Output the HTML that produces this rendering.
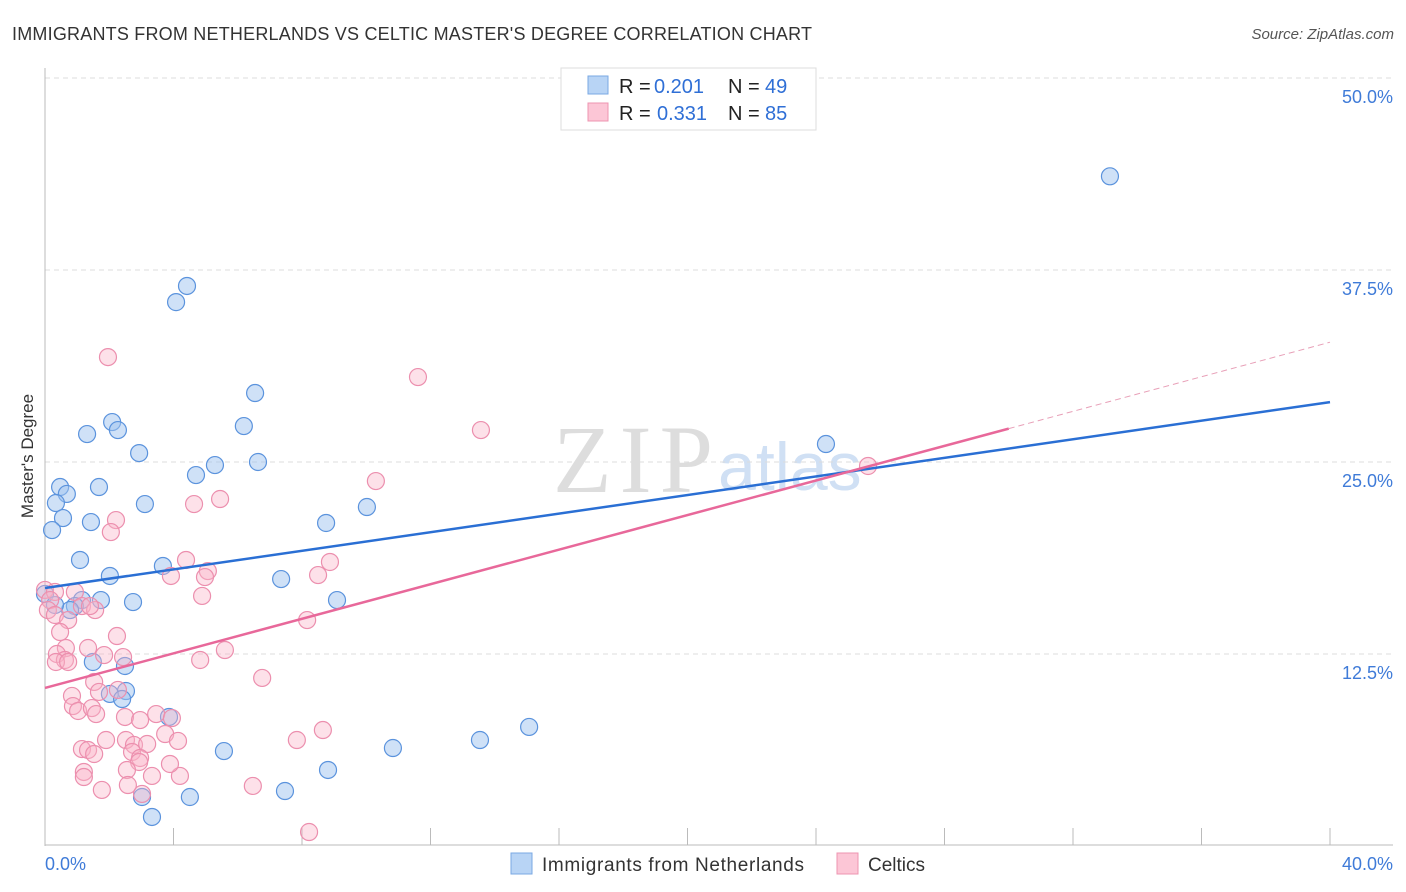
<!DOCTYPE html>
<html><head><meta charset="utf-8"><style>
body{margin:0;background:#fff;font-family:"Liberation Sans",sans-serif}
svg{display:block}
</style></head><body>
<svg id="chart" width="1406" height="892">
<text x="12" y="40" font-size="18" fill="#333" textLength="800">IMMIGRANTS FROM NETHERLANDS VS CELTIC MASTER'S DEGREE CORRELATION CHART</text>
<text x="1394" y="39" font-size="15" fill="#555" font-style="italic" text-anchor="end">Source: ZipAtlas.com</text>
<text x="0" y="0" transform="translate(33,456) rotate(-90)" font-size="17" fill="#333" text-anchor="middle">Master's Degree</text>
<g><text x="553" y="492" font-size="96" font-family="Liberation Serif" fill="#ddd" textLength="160">ZIP</text><text x="718" y="490" font-size="68" fill="#d0e0f4">atlas</text></g>
<g id="grid"></g><g id="marks"></g>
<g>
<rect x="561" y="68" width="255" height="62" fill="#fff" stroke="#ddd"/>
<rect x="588" y="76" width="20" height="18" fill="#b8d4f5" stroke="#7aa8e3"/>
<rect x="588" y="103" width="20" height="18" fill="#fcc6d6" stroke="#ee94b0"/>
<text x="619" y="93" font-size="20" fill="#222">R =</text><text x="654" y="93" font-size="20" fill="#2f6fd6">0.201</text>
<text x="728" y="93" font-size="20" fill="#222">N =</text><text x="765" y="93" font-size="20" fill="#2f6fd6">49</text>
<text x="619" y="120" font-size="20" fill="#222">R =</text><text x="657" y="120" font-size="20" fill="#2f6fd6">0.331</text>
<text x="728" y="120" font-size="20" fill="#222">N =</text><text x="765" y="120" font-size="20" fill="#2f6fd6">85</text>
</g>
<g>
<rect x="511" y="853" width="21" height="21" fill="#b8d4f5" stroke="#7aa8e3"/>
<text x="542" y="871" font-size="19" fill="#333" textLength="262">Immigrants from Netherlands</text>
<rect x="837" y="853" width="21" height="21" fill="#fcc6d6" stroke="#ee94b0"/>
<text x="868" y="871" font-size="19" fill="#333">Celtics</text>
</g>
</svg>
<script>
const blueX=[33.15,4.42,4.08,6.54,2.09,2.27,1.31,6.19,2.93,5.29,6.63,4.70,24.31,0.47,1.68,0.68,0.34,3.11,10.02,0.56,1.43,8.75,0.22,1.09,3.67,2.02,7.35,0,1.15,1.74,2.74,9.09,0.93,0.78,0.31,1.49,2.49,2.52,2.02,2.40,3.86,15.07,5.57,10.83,13.54,8.81,7.47,4.51,3.02,3.33];
const blueY=[43.6,36.46,35.41,29.49,27.6,27.08,26.82,27.34,25.58,24.8,25.0,24.15,26.17,23.37,23.37,22.92,22.33,22.26,22.07,21.35,21.09,21.03,20.57,18.62,18.23,17.58,17.38,16.41,16.01,16.01,15.88,16.01,15.62,15.36,15.69,11.98,11.72,10.09,9.9,9.57,8.4,7.75,6.18,6.38,6.9,4.95,3.58,3.19,3.19,1.89];
const pinkX=[1.96,11.61,13.57,10.30,5.45,4.64,2.21,2.05,4.39,8.87,5.07,4.98,3.92,8.50,4.89,8.16,0,0.31,0.93,0.16,1.15,1.56,1.40,0.09,0.31,0.72,0.47,2.24,1.34,0.65,0.37,0.62,0.34,0.72,5.60,4.83,2.43,1.84,6.76,1.53,0.84,1.68,2.27,0.87,1.03,1.46,1.59,2.49,2.96,3.46,3.95,3.74,4.14,1.90,2.52,2.77,3.18,1.15,1.34,1.53,2.71,2.96,2.93,2.55,3.33,4.20,3.89,1.21,1.21,1.77,2.58,3.02,6.47,7.84,8.65,25.62,8.22];
const pinkY=[31.83,30.53,27.08,23.76,22.59,22.26,21.22,20.44,18.62,18.49,17.9,17.51,17.58,17.64,16.28,14.71,16.67,16.54,16.54,16.01,15.62,15.36,15.62,15.36,15.04,14.71,13.93,13.67,12.89,12.89,12.5,12.11,11.98,11.98,12.76,12.11,12.3,12.43,10.94,10.68,9.77,10.03,10.16,9.11,8.79,8.98,8.59,8.4,8.2,8.59,8.33,7.29,6.84,6.9,6.9,6.58,6.64,6.31,6.25,5.99,6.12,5.73,5.47,4.95,4.56,4.56,5.34,4.82,4.49,3.65,3.97,3.39,3.91,6.9,7.55,24.74,0.91];
const blueTrend=[16.8,28.9];
const pinkTrend=[10.29,32.8];
const yTicks=[12.5,25,37.5,50];
const yTickLabels=["12.5%","25.0%","37.5%","50.0%"];
const xTicks=[0,4,8,12,16,20,24,28,32,36,40];
const NS='http://www.w3.org/2000/svg';
const X=v=>45+v/40*1285, Y=v=>846-v/50*768;
function mk(p,t,a){const e=document.createElementNS(NS,t);for(const k in a)e.setAttribute(k,a[k]);p.appendChild(e);return e;}
const g=document.getElementById('grid'), m=document.getElementById('marks');
yTicks.forEach((t,i)=>{
 const l=mk(g,'line',{x1:45,x2:1393,y1:Y(t),y2:Y(t),stroke:'#ddd','stroke-dasharray':'5,4'});
 
 
 const tx=mk(g,'text',{x:1393,y:Y(t)+25,'font-size':18,fill:'#3f7bd8','text-anchor':'end'});
 tx.textContent=yTickLabels[i];
 
 
});
const ax=mk(g,'line',{x1:45,x2:45,y1:68,y2:846,stroke:'#bbb'});


const bx=mk(g,'line',{x1:45,x2:1393,y1:845,y2:845,stroke:'#bbb'});


xTicks.forEach(t=>{if(t===0)return;
 const l=mk(g,'line',{x1:X(t),x2:X(t),y1:828,y2:845,stroke:'#bbb'});
 
 });
const x0=mk(g,'text',{x:45,y:870,'font-size':18,fill:'#3f7bd8'});x0.textContent='0.0%';


const x1=mk(g,'text',{x:1393,y:870,'font-size':18,fill:'#3f7bd8','text-anchor':'end'});x1.textContent='40.0%';


blueX.forEach((v,i)=>{const c=mk(m,'circle',{cx:X(v),cy:Y(blueY[i]),r:8.5,fill:'rgba(160,195,240,0.5)',stroke:'#5b93dd','stroke-width':1.2});
 
 });
pinkX.forEach((v,i)=>{const c=mk(m,'circle',{cx:X(v),cy:Y(pinkY[i]),r:8.5,fill:'rgba(250,180,200,0.4)',stroke:'#ec8fae','stroke-width':1.2});
 
 });
const bl=mk(m,'line',{x1:X(0),y1:Y(blueTrend[0]),x2:X(40),y2:Y(blueTrend[1]),stroke:'#2a6fd4','stroke-width':2.5});


const ps=(pinkTrend[1]-pinkTrend[0])/40, xe=30;
const pl=mk(m,'line',{x1:X(0),y1:Y(pinkTrend[0]),x2:X(xe),y2:Y(pinkTrend[0]+ps*xe),stroke:'#e8689a','stroke-width':2.5});


const pd=mk(m,'line',{x1:X(xe),y1:Y(pinkTrend[0]+ps*xe),x2:X(40),y2:Y(pinkTrend[1]),stroke:'#e8a0b8','stroke-width':1,'stroke-dasharray':'6,4'});


</script>
</body></html>
